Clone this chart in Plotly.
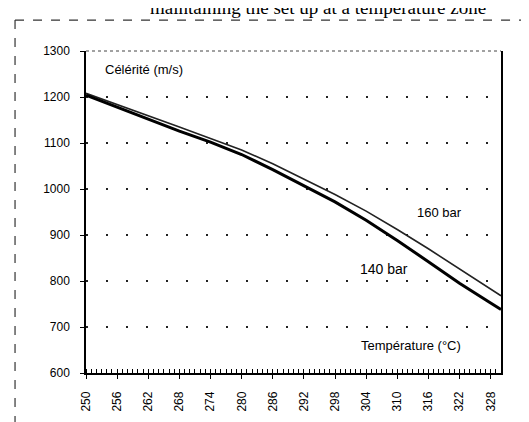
import plotly.graph_objects as go

temperature = [250, 256, 262, 268, 274, 280, 286, 292, 298, 304, 310, 316, 322, 328, 330]
celerite_140 = [1204, 1178, 1152, 1126, 1102, 1075, 1042, 1007, 972, 932, 888, 842, 795, 752, 738]
celerite_160 = [1208, 1184, 1160, 1135, 1110, 1085, 1055, 1022, 988, 952, 912, 870, 826, 782, 768]

x_ticks = [250, 256, 262, 268, 274, 280, 286, 292, 298, 304, 310, 316, 322, 328]
y_ticks = [600, 700, 800, 900, 1000, 1100, 1200, 1300]

FONT = "Liberation Sans, Arial, sans-serif"

fig = go.Figure()
fig.add_trace(go.Scatter(x=temperature, y=celerite_160, mode="lines",
                         line=dict(color="#222", width=1.6), name="160 bar"))
fig.add_trace(go.Scatter(x=temperature, y=celerite_140, mode="lines",
                         line=dict(color="#000", width=3), name="140 bar"))

fig.update_layout(
    width=529, height=422,
    margin=dict(l=78, r=36, t=43, b=57),
    paper_bgcolor="white", plot_bgcolor="white",
    showlegend=False,
    font=dict(family=FONT, color="#000"),
)
fig.update_xaxes(
    range=[250, 330], tickvals=x_ticks, ticktext=[str(v) for v in x_ticks],
    tickangle=-90, tickfont=dict(size=12, family=FONT),
    showline=True, linecolor="#000", linewidth=1.5,
    ticks="outside", ticklen=4, tickcolor="#000",
    minor=dict(dtick=1, ticks="inside", ticklen=4, tickcolor="#000", showgrid=False),
    showgrid=False, zeroline=False, ticklabelstandoff=8,
)
fig.update_yaxes(
    range=[600, 1300], tickvals=y_ticks, ticktext=[str(v) for v in y_ticks],
    tickfont=dict(size=12, family=FONT),
    showline=True, linecolor="#000", linewidth=1.5, mirror=True,
    ticks="outside", ticklen=4, tickcolor="#000",
    showgrid=True, gridcolor="#222", gridwidth=2, griddash="2px,18px",
    zeroline=False, ticklabelstandoff=8,
)

# top dotted border of plot area
fig.add_shape(type="line", xref="paper", yref="paper", x0=0, x1=1, y0=1, y1=1,
              line=dict(color="#444", width=1, dash="dot"))
# outer dashed document frame
fig.add_shape(type="line", xref="paper", yref="paper", x0=-0.171, x1=1.1, y0=1.096, y1=1.096,
              line=dict(color="#333", width=1.2, dash="dash"))
fig.add_shape(type="line", xref="paper", yref="paper", x0=-0.171, x1=-0.171, y0=1.096, y1=-0.165,
              line=dict(color="#333", width=1.2, dash="dash"))

fig.add_annotation(x=253.3, y=1259, text="Célérité (m/s)", showarrow=False,
                   xanchor="left", font=dict(size=13, family=FONT))
fig.add_annotation(x=318.2, y=948, text="160 bar", showarrow=False,
                   font=dict(size=13, family=FONT))
fig.add_annotation(x=307.4, y=826, text="140 bar", showarrow=False,
                   font=dict(size=14, family=FONT))
fig.add_annotation(x=312.6, y=659, text="Température (°C)", showarrow=False,
                   font=dict(size=13, family=FONT))
# cut-off document text above the chart
fig.add_annotation(xref="paper", yref="paper", x=0.149, y=1.136, xanchor="left", yanchor="middle",
                   text="maintaining the set up at a temperature zone", showarrow=False,
                   font=dict(size=19, family="Liberation Serif, Times New Roman, serif"))

fig.write_html("out.html")
